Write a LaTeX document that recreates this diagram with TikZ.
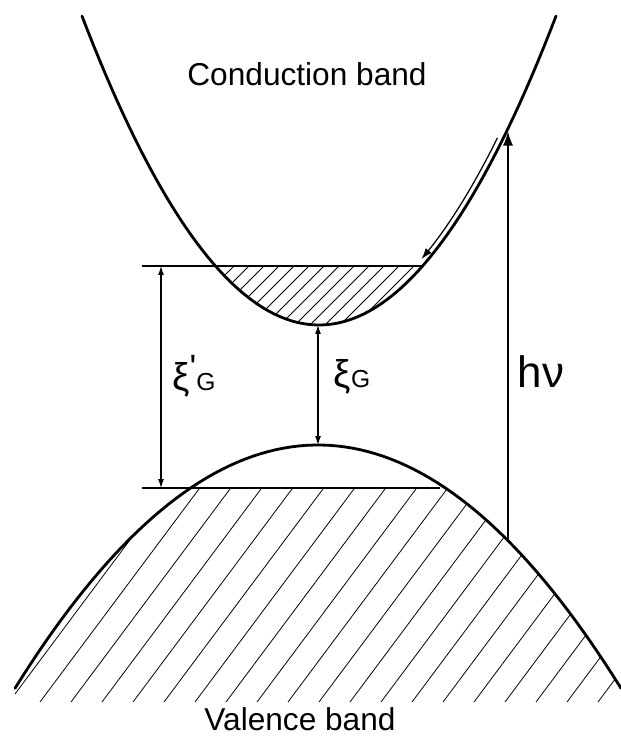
\documentclass[tikz,border=0pt]{standalone}
\usepackage{fontspec}
\setmainfont{Liberation Sans}
\usetikzlibrary{arrows.meta}

\tikzset{
  band/.style={line width=1.6pt, line cap=round},
  level/.style={line width=0.7pt},
  hatch/.style={line width=0.45pt},
  gap/.style={line width=0.6pt, {Latex[length=1.8mm,width=1.2mm]}-{Latex[length=1.8mm,width=1.2mm]}},
  photon/.style={line width=0.8pt, -{Latex[length=2.8mm,width=2mm]}},
  relax/.style={line width=0.7pt, -{Latex[length=2.2mm,width=1.5mm]}},
  bigtext/.style={font=\fontsize{18}{20}\selectfont},
}

\begin{document}
\begin{tikzpicture}[x=0.2mm, y=-0.2mm,
    declare function={cb(\x)=325-55*((\x-319)/100)^2; vb(\x)=445+26.5*((\x-318)/100)^2;}]
    \useasboundingbox (0,0) rectangle (620,742);

    % Filled states, conduction band
    \begin{scope}
        \clip plot[domain=215.4:422.6, samples=40] (\x,{cb(\x)}) -- cycle;
        \foreach \x in {140,155,...,440}
            \draw[hatch] (\x,330) -- ++(70,-70);
    \end{scope}

    % Filled states, valence band
    \begin{scope}
        \clip plot[domain=15:190.6, samples=40] (\x,{vb(\x)}) -- (445.4,488)
            -- plot[domain=445.4:621, samples=40] (\x,{vb(\x)}) -- (621,702) -- (15,702) -- cycle;
        \foreach \i in {-6,...,19}
            \draw[hatch] ({40+31*\i},702) -- ++(200,-268);
    \end{scope}

    % Bands
    \draw[band] plot[domain=82:556, samples=80] (\x,{cb(\x)});
    \draw[band] plot[domain=15:621, samples=80] (\x,{vb(\x)});

    % Fermi levels
    \coordinate (cfL) at (142,266);
    \coordinate (cfR) at (422.6,266);
    \coordinate (vfL) at (142,488);
    \coordinate (vfR) at (440,488);
    \draw[level] (cfL) -- (cfR);
    \draw[level] (vfL) -- (vfR);

    % Gaps
    \coordinate (gpTop) at (161,266);
    \coordinate (gpBot) at (161,488);
    \coordinate (cbMin) at (318,{cb(318)});
    \coordinate (vbMax) at (318,{vb(318)});
    \draw[gap] (gpTop) -- (gpBot);
    \draw[gap] (cbMin) -- (vbMax);

    % Photon and relaxation
    \coordinate (hvStart) at (508,{vb(508)});
    \coordinate (hvEnd) at (508,{cb(508)+3});
    \draw[photon] (hvStart) -- (hvEnd);
    \draw[relax] plot[domain=502:426, samples=20] ({\x-4.5},{cb(\x)-3});

    % Labels
    \node[bigtext] (cbLabel) at (307,74) {Conduction band};
    \node[bigtext] (vbLabel) at (300,719) {Valence band};
    \node[font=\fontsize{25}{28}\selectfont] (hvLabel) at (541,372) {hν};
    \node[inner sep=0pt] (gapPrime) at (194,376)
        {{\fontsize{22}{24}\selectfont ξ}{\fontsize{20}{22}\selectfont\raisebox{0.3em}{\textquotesingle}}{\fontsize{14}{16}\selectfont G}};
    \node[inner sep=0pt] (gapPlain) at (352,377)
        {{\fontsize{22}{24}\selectfont ξ}{\fontsize{14}{16}\selectfont G}};

\end{tikzpicture}
\end{document}
